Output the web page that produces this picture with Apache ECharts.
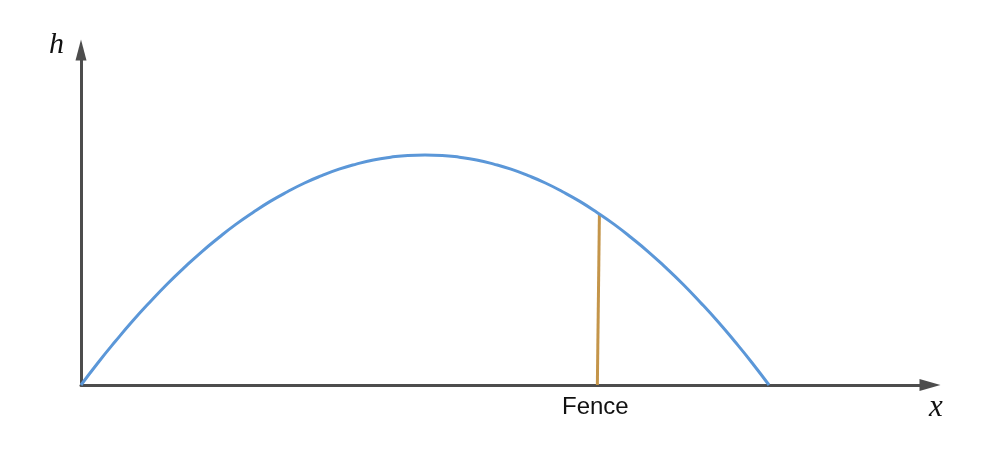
<!DOCTYPE html>
<html>
<head>
<meta charset="utf-8">
<script src="https://cdn.jsdelivr.net/npm/echarts@6/dist/echarts.min.js"></script>
<style>
  html, body { margin: 0; padding: 0; background: #fff; }
  #chart { width: 994px; height: 476px; }
</style>
</head>
<body>
<div id="chart"></div>
<script>
// ball path (x and h in arbitrary units)
const pathX = [0, 2.5, 5, 7.5, 10, 12.5, 15, 17.5, 20, 22.5, 25, 27.5, 30, 32.5, 35, 37.5, 40, 42.5, 45, 47.5,
  50, 52.5, 55, 57.5, 60, 62.5, 65, 67.5, 70, 72.5, 75, 77.5, 80, 82.5, 85, 87.5, 90, 92.5, 95, 97.5, 100];
const pathH = [0, 9.8, 19, 27.8, 36, 43.8, 51, 57.8, 64, 69.8, 75, 79.8, 84, 87.8, 91, 93.8, 96, 97.8, 99, 99.8,
  100, 99.8, 99, 97.8, 96, 93.8, 91, 87.8, 84, 79.8, 75, 69.8, 64, 57.8, 51, 43.8, 36, 27.8, 19, 9.8, 0];

// fence: bottom and top points
const fenceX = [75.05, 75.35];
const fenceH = [0, 74.3];
const fenceLabel = "Fence";

const xMax = 123.4;
const hMax = 145.6;

const chart = echarts.init(document.getElementById("chart"));

const axisColor = "#4d4d4d";

const option = {
  animation: false,
  grid: { left: 81, right: 64, top: 50, bottom: 91 },
  xAxis: {
    type: "value",
    min: 0,
    max: xMax,
    axisLine: {
      show: true,
      symbol: ["none", "triangle"],
      symbolSize: [12, 21],
      lineStyle: { color: axisColor, width: 3 }
    },
    axisTick: { show: false },
    axisLabel: { show: false },
    splitLine: { show: false }
  },
  yAxis: {
    type: "value",
    min: 0,
    max: hMax,
    axisLine: {
      show: true,
      symbol: ["none", "triangle"],
      symbolSize: [11, 21],
      lineStyle: { color: axisColor, width: 3 }
    },
    axisTick: { show: false },
    axisLabel: { show: false },
    splitLine: { show: false }
  },
  graphic: [
    {
      type: "text",
      left: 49,
      top: 30,
      style: {
        text: "h",
        font: "italic 30px 'Liberation Serif'",
        fill: "#111"
      }
    },
    {
      type: "text",
      left: 929,
      top: 392,
      style: {
        text: "x",
        font: "italic 31px 'Liberation Serif'",
        fill: "#111"
      }
    }
  ],
  series: [
    {
      type: "line",
      data: pathX.map((x, i) => [x, pathH[i]]),
      smooth: true,
      showSymbol: false,
      lineStyle: { color: "#5b97d8", width: 3 },
      z: 3
    },
    {
      type: "line",
      data: fenceX.map((x, i) => [x, fenceH[i]]),
      showSymbol: false,
      symbol: "none",
      lineStyle: { color: "#c4954a", width: 3 },
      z: 2,
      markPoint: {
        symbol: "circle",
        symbolSize: 0,
        data: [{ coord: [fenceX[0], fenceH[0]] }],
        label: {
          show: true,
          position: "bottom",
          distance: 10,
          offset: [-2, 0],
          formatter: fenceLabel,
          color: "#111",
          fontSize: 24,
          fontFamily: "Liberation Sans"
        }
      }
    }
  ]
};

chart.setOption(option);
</script>
</body>
</html>
